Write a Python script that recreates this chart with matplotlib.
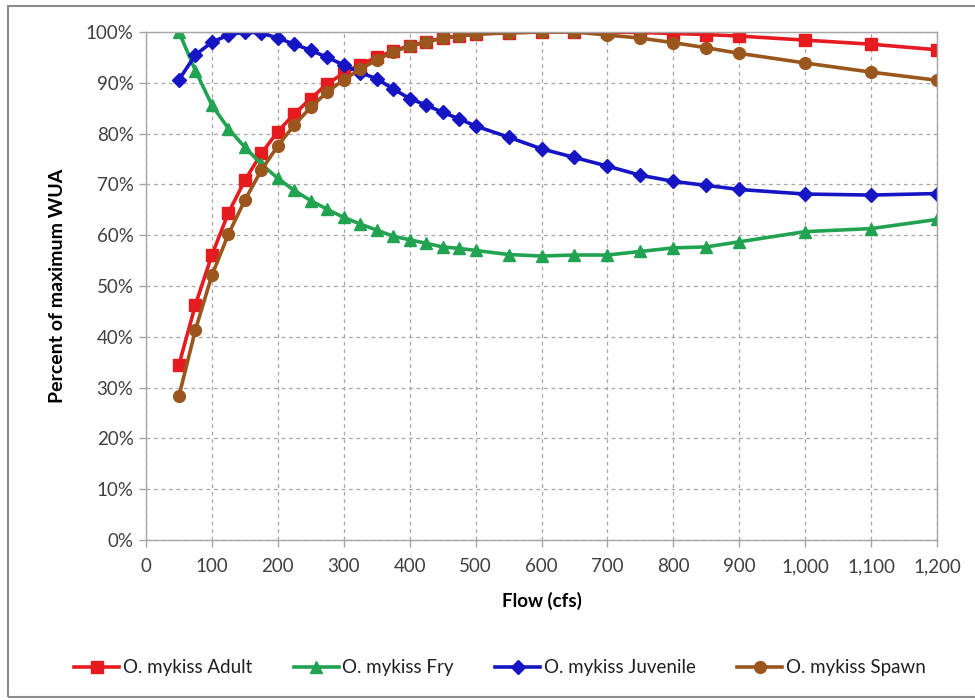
import matplotlib.pyplot as plt
from matplotlib.patches import Rectangle
from matplotlib.ticker import FuncFormatter, MultipleLocator

plt.rcParams['font.family'] = ['Lato', 'DejaVu Sans']

# flow values (cfs)
flow = [50, 75, 100, 125, 150, 175, 200, 225, 250, 275, 300, 325, 350, 375,
        400, 425, 450, 475, 500, 550, 600, 650, 700, 750, 800, 850, 900,
        1000, 1100, 1200]

# percent of maximum WUA
adult = [34.5, 46.3, 56.1, 64.4, 70.8, 76.1, 80.4, 83.9, 86.9, 89.8, 91.9,
         93.6, 95.0, 96.3, 97.3, 98.1, 98.8, 99.2, 99.6, 99.9, 100.0, 100.0,
         100.0, 99.9, 99.7, 99.5, 99.2, 98.4, 97.6, 96.5]
fry = [100.0, 92.4, 85.6, 81.0, 77.3, 74.0, 71.2, 68.8, 66.8, 65.1, 63.5,
       62.2, 61.0, 59.8, 59.1, 58.4, 57.7, 57.4, 57.0, 56.2, 55.9, 56.1,
       56.1, 56.8, 57.5, 57.7, 58.7, 60.7, 61.3, 63.1]
juvenile = [90.6, 95.5, 98.0, 99.4, 100.0, 99.8, 98.8, 97.6, 96.4, 95.0, 93.5,
            92.0, 90.8, 88.8, 86.9, 85.6, 84.2, 82.9, 81.5, 79.3, 77.0, 75.3,
            73.6, 71.8, 70.6, 69.8, 69.0, 68.1, 67.9, 68.2]
spawn = [28.3, 41.4, 52.1, 60.2, 66.9, 72.8, 77.6, 81.7, 85.2, 88.2, 90.6,
         92.7, 94.5, 96.1, 97.2, 98.0, 98.8, 99.2, 99.6, 99.8, 100.0, 100.0,
         99.4, 98.8, 97.9, 96.9, 95.8, 93.9, 92.1, 90.5]

series = [
    ('O. mykiss Adult', adult, '#E51B1F', 's', 9),
    ('O. mykiss Fry', fry, '#22A352', '^', 9),
    ('O. mykiss Juvenile', juvenile, '#1515C4', 'D', 7.5),
    ('O. mykiss Spawn', spawn, '#9A561C', 'o', 8.5),
]

fig = plt.figure(figsize=(9.75, 7), dpi=100)
ax = fig.add_axes([146 / 975, 1 - 540 / 700, (937 - 146) / 975, (540 - 32) / 700])

# outer chart border like the spreadsheet frame
fig.patches.append(Rectangle((8 / 975, 3 / 700), 1.0, 691 / 700,
                             transform=fig.transFigure, fill=False,
                             edgecolor='#8C8C8C', linewidth=1.5))

for name, vals, color, marker, ms in series:
    ax.plot(flow, vals, color=color, linewidth=2.6, marker=marker,
            markersize=ms, markeredgecolor=color, label=name)

ax.set_xlim(0, 1200)
ax.set_ylim(0, 100)
ax.xaxis.set_major_locator(MultipleLocator(100))
ax.yaxis.set_major_locator(MultipleLocator(10))
ax.xaxis.set_major_formatter(FuncFormatter(lambda v, p: f'{int(v):,}'))
ax.yaxis.set_major_formatter(FuncFormatter(lambda v, p: f'{int(v)}%'))

ax.grid(True, linestyle=(0, (3, 3)), color='#A6A6A6', linewidth=0.9)
ax.set_axisbelow(True)
for s in ax.spines.values():
    s.set_color('#A6A6A6')
    s.set_linewidth(1.0)
ax.tick_params(axis='both', colors='#A6A6A6', labelcolor='#404040',
               labelsize=13.5, length=5, width=1.0)
ax.tick_params(axis='x', pad=8)
ax.tick_params(axis='y', pad=4)

ax.set_xlabel('Flow (cfs)', fontsize=13.5, fontweight='bold', labelpad=12)
ax.set_ylabel('Percent of maximum WUA', fontsize=14, fontweight='bold',
              labelpad=14)

fig.legend(loc='center', bbox_to_anchor=(500 / 975, 1 - 668 / 700), ncol=4,
           frameon=False, fontsize=13.5, handlelength=2.4, handletextpad=0.2,
           columnspacing=2.2, labelcolor='#202020')

fig.savefig('out.png', dpi=100)
